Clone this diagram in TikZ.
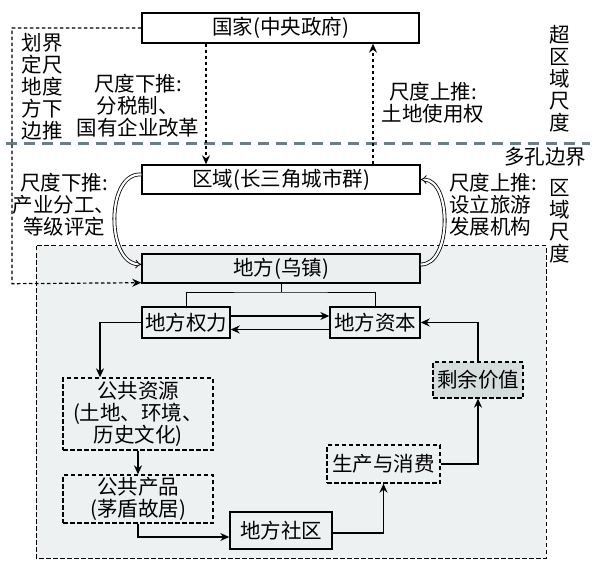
\documentclass[tikz,border=0pt]{standalone}
\usepackage{fontspec}
\setmainfont{Noto Sans CJK SC}
\usetikzlibrary{arrows.meta,calc}
\definecolor{regionfill}{RGB}{238,241,242}
\definecolor{boxfill}{RGB}{236,239,240}
\definecolor{valfill}{RGB}{213,221,221}
\definecolor{slate}{RGB}{108,126,133}
\begin{document}
\begin{tikzpicture}[x=1pt,y=-1pt,
  every node/.style={font=\fontsize{20.5}{22}\selectfont, inner sep=0pt},
  solidbox/.style={draw, line width=1.4pt, fill=white},
  dbox/.style={draw, line width=1.3pt, dash pattern=on 4.5pt off 2.5pt, fill=regionfill, align=center},
  arr/.style={line width=1.3pt, -{Stealth[length=9pt,width=8pt]}},
  darr/.style={line width=1.2pt, dash pattern=on 3.5pt off 2.5pt, -{Stealth[length=9pt,width=8pt]}},
  dbl/.style={double, double distance=2.2pt, line width=0.8pt, -{Implies}},
  lbl/.style={align=center}
]
\useasboundingbox (0,0) rectangle (595,567);
\fill[white] (0,0) rectangle (595,567);
% local region
\draw[fill=regionfill, line width=1pt, dash pattern=on 4.5pt off 2.5pt] (36,246) rectangle (546,558);
% porous boundary
\draw[slate, line width=3pt, dash pattern=on 11pt off 7pt] (6,144) -- (590,144);

% nodes
\node[solidbox, minimum width=277pt, minimum height=30pt] (guo) at (280.5,28) {国家(中央政府)};
\node[solidbox, minimum width=278pt, minimum height=29pt] (quyu) at (281,179.5) {区域(长三角城市群)};
\node[solidbox, fill=boxfill, minimum width=278pt, minimum height=29pt] (difang) at (281,268.5) {地方(乌镇)};
\node[solidbox, fill=regionfill, minimum width=88pt, minimum height=31pt] (quanli) at (186,322.5) {地方权力};
\node[solidbox, fill=regionfill, minimum width=90pt, minimum height=31pt] (ziben) at (375,322.5) {地方资本};
\node[dbox, minimum width=150pt, minimum height=72pt] (ziyuan) at (138,414) {公共资源\\(土地、环境、\\历史文化)};
\node[dbox, minimum width=150pt, minimum height=48pt] (chanpin) at (138,499) {公共产品\\(茅盾故居)};
\node[solidbox, fill=regionfill, minimum width=102pt, minimum height=37pt] (shequ) at (281,530.5) {地方社区};
\node[dbox, minimum width=113pt, minimum height=38pt] (shengchan) at (383.5,464) {生产与消费};
\node[dbox, fill=valfill, minimum width=90pt, minimum height=36pt] (shengyu) at (478,380) {剩余价值};

% labels
\node[align=left] (lbl1) at (42,87) {划界\\定尺\\地度\\方下\\边推};
\node[lbl] (lbl2) at (138,106) {尺度下推:\\分税制、\\国有企业改革};
\node[lbl] (lbl3) at (433,103) {尺度上推:\\土地使用权};
\node[lbl] (lbl4) at (560,79) {超\\区\\域\\尺\\度};
\node (lbl5) at (545,157) {多孔边界};
\node[lbl] (lbl6) at (64,205) {尺度下推:\\产业分工、\\等级评定};
\node[align=left] (lbl7) at (493,205) {尺度上推:\\设立旅游\\发展机构};
\node[lbl] (lbl8) at (560,221) {区\\域\\尺\\度};

% coordinates
\coordinate (d1) at (206,0);
\coordinate (u1) at (373,0);
\coordinate (leftx) at (12,0);
\coordinate (br) at (281,292);
\coordinate (l1) at (100,0);

% scale connectors
\draw[darr] (guo.west) -| (leftx |- difang.south) -- ([yshift=1pt]difang.south west);
\draw[darr] (guo.south -| d1) -- (quyu.north -| d1);
\draw[darr] (quyu.north -| u1) -- (guo.south -| u1);
\draw[dbl] ([yshift=5pt]quyu.west) .. controls (106,172) and (106,262) .. ([yshift=4pt]difang.west);
\draw[dbl] ([yshift=4pt]difang.east) .. controls (452,265) and (452,180) .. ([yshift=0pt]quyu.east);

% local structure
\draw[line width=1pt] (difang.south) -- (br);
\draw[line width=1pt] (quanli.north) |- (br) -| (ziben.north);
\draw[arr] ([yshift=6.5pt]quanli.east) -- ([yshift=6.5pt]ziben.west);
\draw[arr] ([yshift=-7pt]ziben.west) -- ([yshift=-7pt]quanli.east);
\draw[arr] (quanli.west) -| (ziyuan.north -| l1);
\draw[arr] (ziyuan.south) -- (chanpin.north);
\draw[arr] (chanpin.south) |- ([yshift=-6.5pt]shequ.west);
\draw[arr] ([yshift=-2.5pt]shequ.east) -| (shengchan.south);
\draw[arr] (shengchan.east) -| (shengyu.south);
\draw[arr] (shengyu.north) |- (ziben.east);
\end{tikzpicture}
\end{document}
